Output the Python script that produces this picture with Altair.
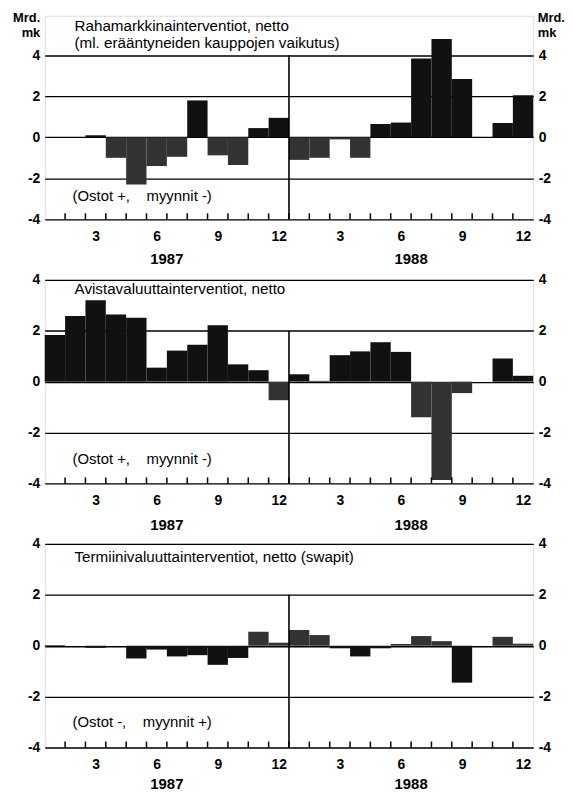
import json
import altair as alt
import pandas as pd

# ---- data -------------------------------------------------------------
months = list(range(1, 25))            # 1987 Jan .. 1988 Dec
years = ["1987", "1988"]
month_tick_labels = ["3", "6", "9", "12", "3", "6", "9", "12"]
y_ticks = [-4, -2, 0, 2, 4]

money_market = [0.0, 0.0, 0.1, -1.0, -2.3, -1.4, -0.95, 1.8, -0.88, -1.35, 0.45, 0.95,
                -1.1, -1.0, -0.1, -1.0, 0.65, 0.72, 3.85, 4.8, 2.85, 0.0, 0.7, 2.05]
spot = [1.83, 2.58, 3.2, 2.64, 2.51, 0.55, 1.22, 1.45, 2.22, 0.68, 0.45, -0.73,
        0.29, 0.03, 1.04, 1.19, 1.55, 1.17, -1.4, -3.87, -0.45, 0.0, 0.91, 0.23]
forward = [0.03, 0.0, -0.08, 0.0, -0.5, -0.15, -0.42, -0.37, -0.75, -0.48, 0.55, 0.12,
           0.62, 0.42, -0.1, -0.42, -0.1, 0.07, 0.38, 0.18, -1.45, 0.0, 0.35, 0.08]

titles = [
    "Rahamarkkinainterventiot, netto\n(ml. erääntyneiden kauppojen vaikutus)",
    "Avistavaluuttainterventiot, netto",
    "Termiinivaluuttainterventiot, netto (swapit)",
]
notes = [
    "(Ostot +,\u00a0\u00a0\u00a0 myynnit -)",
    "(Ostot +,\u00a0\u00a0\u00a0 myynnit -)",
    "(Ostot -,\u00a0\u00a0\u00a0 myynnit +)",
]
unit_title = ["Mrd.", "mk"]

FONT = "Liberation Sans"
W = 492
tick_pos = [m - 0.5 for m in months if m % 3 == 0]
label_expr = json.dumps(month_tick_labels) + "[floor(datum.value / 3)]"
year_boundary = len(months) // 2


def panel(vals, title, note, ymax, h, div_top, purchase_positive, mrd, title_y,
          note_dy, year_dy):
    df = pd.DataFrame({"m": months, "v": vals})
    df["x"] = df["m"] - 1
    df["x2"] = df["m"]
    df["kind"] = ["osto" if ((v >= 0) == purchase_positive) else "myynti" for v in vals]

    xs = alt.Scale(domain=[0, len(months)], nice=False, zero=False)
    ys = alt.Scale(domain=[-4, ymax], nice=False, zero=False)

    x_axis = alt.Axis(values=tick_pos, labelExpr=label_expr, title=None, tickSize=0,
                      domain=False, grid=False, labelPadding=10, labelFont=FONT,
                      labelFontSize=14, labelFontWeight="bold", labelColor="black")

    def y_axis(orient):
        kw = dict(orient=orient, values=y_ticks, labelExpr="datum.value", tickSize=0,
                  domain=False, labelPadding=5, labelFont=FONT, labelFontSize=14,
                  labelFontWeight="bold", labelColor="black",
                  grid=(orient == "left"), gridColor="black", gridWidth=1.3, gridOpacity=1)
        if mrd:
            kw.update(title=unit_title, titleAngle=0, titleFont=FONT, titleFontSize=13,
                      titleFontWeight="bold", titleColor="black", titleBaseline="alphabetic",
                      titleLineHeight=15, titleY=6,
                      titleX=(-5 if orient == "left" else 4),
                      titleAlign=("right" if orient == "left" else "left"))
        else:
            kw.update(title=None)
        return alt.Axis(**kw)

    bars = alt.Chart(df).mark_bar(strokeWidth=0).encode(
        x=alt.X("x:Q", scale=xs, axis=x_axis),
        x2="x2:Q",
        y=alt.Y("v:Q", scale=ys, axis=y_axis("left")),
        y2=alt.datum(0),
        color=alt.Color("kind:N", scale=alt.Scale(domain=["osto", "myynti"],
                                                  range=["#111111", "#333333"]),
                        legend=None),
    )

    div_df = pd.DataFrame({"x": [year_boundary], "y": [-4], "y2": [div_top]})
    divider = alt.Chart(div_df).mark_rule(color="black", strokeWidth=1.6).encode(
        x=alt.X("x:Q", scale=xs, axis=x_axis),
        y=alt.Y("y:Q", scale=ys, axis=y_axis("right")),
        y2="y2:Q",
    )

    tick_df = pd.DataFrame({"x": months[:-1]})
    ticks = alt.Chart(tick_df).mark_rule(color="black", strokeWidth=1.5).encode(
        x=alt.X("x:Q", scale=xs, axis=x_axis),
        y=alt.value(h),
        y2=alt.value(h - 6),
    )

    title_t = alt.Chart(pd.DataFrame({"t": [title]})).mark_text(
        align="left", baseline="alphabetic", lineBreak="\n", lineHeight=17,
        font=FONT, fontSize=15.3, color="black"
    ).encode(x=alt.value(30), y=alt.value(title_y), text="t:N")

    note_t = alt.Chart(pd.DataFrame({"t": [note]})).mark_text(
        align="left", baseline="alphabetic", font=FONT, fontSize=15, color="black"
    ).encode(x=alt.value(28), y=alt.value(h - note_dy), text="t:N")

    n = len(months) // len(years)
    year_df = pd.DataFrame({"year": years,
                            "xc": [(i * n + (i + 1) * n) / 2 for i in range(len(years))]})
    year_t = alt.Chart(year_df).mark_text(
        align="center", baseline="alphabetic", font=FONT, fontSize=15,
        fontWeight="bold", color="black"
    ).encode(x=alt.X("xc:Q", scale=xs, axis=x_axis), y=alt.value(h + year_dy),
             text="year:N")

    return alt.layer(bars, ticks, divider, title_t, note_t, year_t).resolve_scale(
        y="independent").properties(width=W, height=h)


p1 = panel(money_market, titles[0], notes[0], 5.93, 205, 4, True, True, 15, 18, 45)
p2 = panel(spot, titles[1], notes[1], 4, 205, 2, True, False, 14, 20, 47)
p3 = panel(forward, titles[2], notes[2], 4, 205, 2, False, False, 18, 21, 42)

chart = alt.vconcat(p1, p2, p3, spacing=61, bounds="flush").properties(
    padding={"left": 4, "right": 0, "top": 0, "bottom": 0}
).configure_view(stroke="black", strokeWidth=2).configure(background="white")

chart.save("out.html", embed_options={"renderer": "svg", "actions": False})
